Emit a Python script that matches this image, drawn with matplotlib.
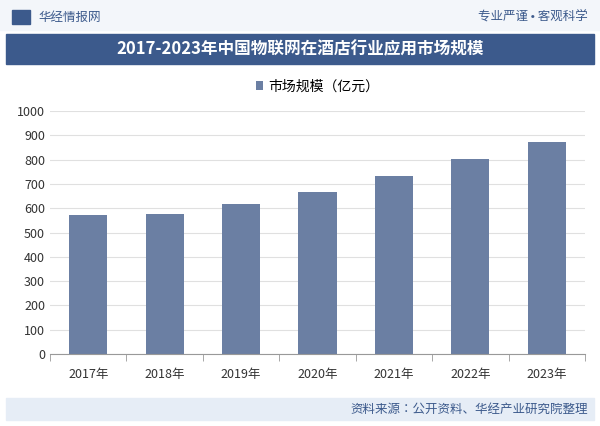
import matplotlib
matplotlib.use("Agg")
import matplotlib.pyplot as plt
from matplotlib.patches import Rectangle
from matplotlib import font_manager as fm

names = sorted({f.name for f in fm.fontManager.ttflist if "CJK" in f.name})
plt.rcParams['font.family'] = 'sans-serif'
plt.rcParams['font.sans-serif'] = names + ['Noto Sans CJK SC', 'DejaVu Sans']

years = ["2017年", "2018年", "2019年", "2020年", "2021年", "2022年", "2023年"]
values = [572, 576, 619, 668, 733, 802, 872]
yticks = [0, 100, 200, 300, 400, 500, 600, 700, 800, 900, 1000]

W, H = 600, 426
fig = plt.figure(figsize=(W/100, H/100), dpi=100)
fig.patch.set_facecolor("white")

fig.add_artist(Rectangle((0, 1-30/H), 1, 30/H, transform=fig.transFigure, color="#f3f6fa", zorder=0))
fig.text(38/W, 1-17/H, "华经情报网", fontsize=9, color="#3c5a8c", va="center")
fig.add_artist(Rectangle((12/W, 1-24/H), 18/W, 14/H, transform=fig.transFigure, color="#3c5a8c"))
fig.text(588/W, 1-17/H, "专业严谨 • 客观科学", fontsize=9, color="#3c5a8c", va="center", ha="right")
fig.add_artist(Rectangle((6/W, 1-64/H), 588/W, 30/H, transform=fig.transFigure, color="#3c5a8c"))
fig.text(0.5, 1-49/H, "2017-2023年中国物联网在酒店行业应用市场规模", fontsize=12, color="white",
         fontweight="bold", ha="center", va="center")
fig.add_artist(Rectangle((6/W, 6/H), 588/W, 22/H, transform=fig.transFigure, color="#e6edf6"))
fig.text(588/W, 17/H, "资料来源：公开资料、华经产业研究院整理", fontsize=9, color="#3c5a8c", ha="right", va="center")

ax = fig.add_axes([50/W, 1-354/H, 535/W, 243/H])
ax.bar(years, values, width=0.5, color="#6b7fa3", label="市场规模（亿元）", zorder=2)
ax.set_ylim(0, 1000)
ax.set_xlim(-0.5, 6.5)
ax.set_yticks(yticks)
ax.tick_params(axis="y", length=0, labelsize=9, colors="#333333")
ax.tick_params(axis="x", labelsize=9, colors="#333333")
ax.grid(axis="y", color="#e0e0e0", lw=0.8, zorder=0)
for s in ["top", "right", "left"]:
    ax.spines[s].set_visible(False)
ax.spines["bottom"].set_color("#999999")
ax.set_xticks([i + 0.5 for i in range(-1, 7)], minor=True)
ax.tick_params(axis="x", which="minor", length=5, color="#999999")
ax.tick_params(axis="x", which="major", length=0, pad=10)
ax.legend(loc="upper center", bbox_to_anchor=(0.5, 1.18), frameon=False, fontsize=10,
          handlelength=0.5, handleheight=0.6, handletextpad=0.4)

fig.savefig("out.png", dpi=100)
